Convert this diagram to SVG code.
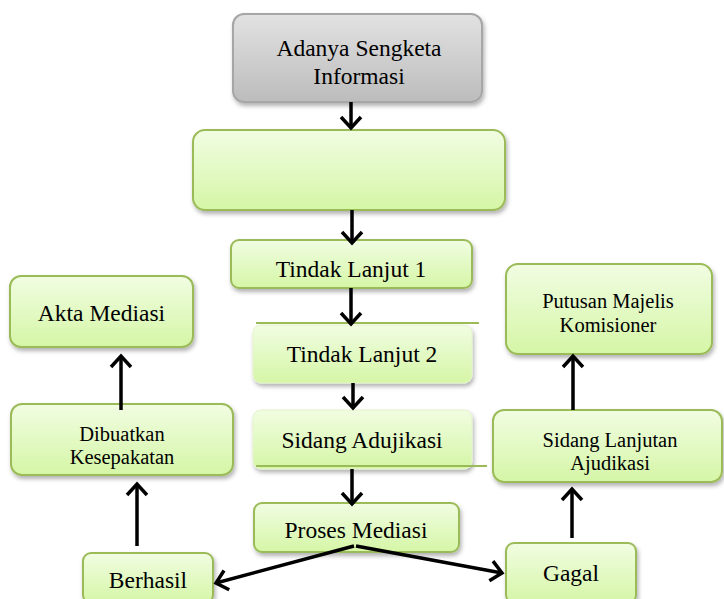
<svg xmlns="http://www.w3.org/2000/svg" width="724" height="599" viewBox="0 0 724 599">
<style>
.n{fill:url(#g);stroke:#9bbb59;stroke-width:2;filter:url(#sh)}
.nb{fill:url(#g);stroke:#e4f4cc;stroke-width:1;filter:url(#sh)}
.t{font-family:"Liberation Serif",serif;font-size:23.5px;fill:#000;text-anchor:middle}
.s{font-family:"Liberation Serif",serif;font-size:20.5px;fill:#000;text-anchor:middle}
.c line{stroke:#000;stroke-width:3.5;marker-end:url(#a)}
</style>
<defs>
<linearGradient id="g" x1="0" y1="0" x2="0" y2="1">
<stop offset="0" stop-color="#f1fde2"/>
<stop offset="1" stop-color="#d5f6a6"/>
</linearGradient>
<linearGradient id="gg" x1="0" y1="0" x2="0" y2="1">
<stop offset="0" stop-color="#e2e2e2"/>
<stop offset="1" stop-color="#bcbcbc"/>
</linearGradient>
<filter id="sh" x="-10%" y="-10%" width="125%" height="135%">
<feDropShadow dx="1.5" dy="3" stdDeviation="2" flood-color="#000" flood-opacity="0.3"/>
</filter>
<marker id="a" markerUnits="userSpaceOnUse" markerWidth="30" markerHeight="30" viewBox="-15 -15 30 30" refX="0" refY="0" orient="auto" overflow="visible">
<path d="M-11,-10 L0,0 L-11,10" fill="none" stroke="#000" stroke-width="3.5"/>
</marker>
</defs>

<g id="n1">
<rect x="233" y="14" width="249" height="88" rx="11" fill="url(#gg)" stroke="#a6a6a6" stroke-width="2" filter="url(#sh)"/>
<text class="t" font-family="Liberation Serif" x="359" y="56">Adanya Sengketa</text>
<text class="t" font-family="Liberation Serif" x="359" y="84">Informasi</text>
</g>
<g id="n2">
<rect class="n" x="193" y="130" width="312" height="80" rx="12"/>
</g>
<g id="n3">
<rect class="n" x="231" y="240" width="241" height="48" rx="8"/>
<text class="t" font-family="Liberation Serif" x="351" y="277">Tindak Lanjut 1</text>
</g>
<g id="n4">
<rect class="nb" x="253" y="325" width="219" height="58" rx="8"/>
<line x1="256" y1="323" x2="479" y2="323" stroke="#9bbb59" stroke-width="2"/>
<text class="t" font-family="Liberation Serif" x="362" y="362">Tindak Lanjut 2</text>
</g>
<g id="n5">
<rect class="nb" x="253" y="410" width="219" height="59" rx="8"/>
<line x1="256" y1="466" x2="487" y2="466" stroke="#9bbb59" stroke-width="2"/>
<text class="t" font-family="Liberation Serif" x="362" y="448">Sidang Adujikasi</text>
</g>
<g id="n6">
<rect class="n" x="254" y="503" width="205" height="49" rx="8"/>
<text class="t" font-family="Liberation Serif" x="356" y="538">Proses Mediasi</text>
</g>
<g id="n7">
<rect class="n" x="83" y="553" width="130" height="50" rx="8"/>
<text class="t" font-family="Liberation Serif" x="148" y="588">Berhasil</text>
</g>
<g id="n8">
<rect class="n" x="11" y="404" width="222" height="71" rx="11"/>
<text class="s" font-family="Liberation Serif" x="122" y="441">Dibuatkan</text>
<text class="s" font-family="Liberation Serif" x="122" y="464">Kesepakatan</text>
</g>
<g id="n9">
<rect class="n" x="10" y="276" width="183" height="71" rx="11"/>
<text class="t" font-family="Liberation Serif" x="101.5" y="321">Akta Mediasi</text>
</g>
<g id="n10">
<rect class="n" x="506" y="543" width="130" height="60" rx="8"/>
<text class="t" font-family="Liberation Serif" x="571" y="581">Gagal</text>
</g>
<g id="n11">
<rect class="n" x="493" y="410" width="229" height="72" rx="11"/>
<text class="s" font-family="Liberation Serif" x="610" y="447">Sidang Lanjutan</text>
<text class="s" font-family="Liberation Serif" x="610" y="470">Ajudikasi</text>
</g>
<g id="n12">
<rect class="n" x="506" y="264" width="206" height="90" rx="12"/>
<text class="s" font-family="Liberation Serif" x="608" y="308">Putusan Majelis</text>
<text class="s" font-family="Liberation Serif" x="608" y="332">Komisioner</text>
</g>

<g id="connectors" class="c">
<line x1="351" y1="102" x2="351" y2="128"/>
<line x1="352" y1="210" x2="352" y2="243"/>
<line x1="351" y1="288" x2="351" y2="324"/>
<line x1="353" y1="383" x2="353" y2="408"/>
<line x1="352" y1="469" x2="352" y2="504"/>
<line x1="354" y1="546" x2="216" y2="583"/>
<line x1="356" y1="546" x2="502" y2="573"/>
<line x1="137" y1="546" x2="137" y2="484"/>
<line x1="121" y1="410" x2="121" y2="356"/>
<line x1="572" y1="538" x2="572" y2="489"/>
<line x1="573" y1="410" x2="573" y2="356"/>
</g>
</svg>
